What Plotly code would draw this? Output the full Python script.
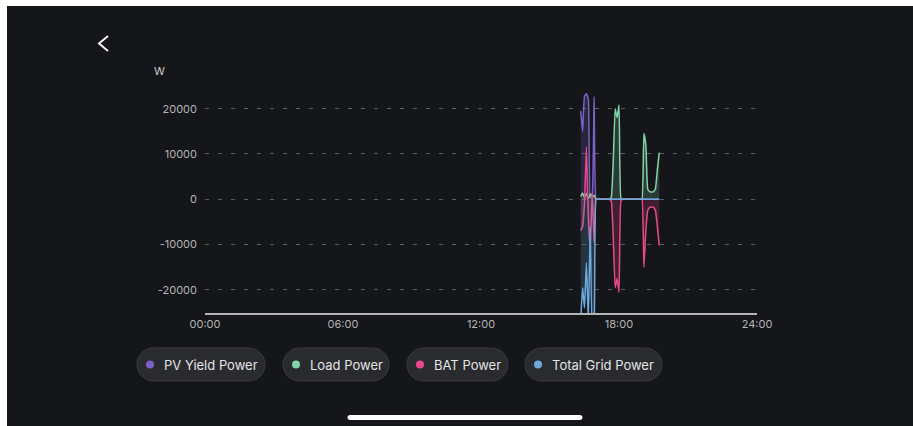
import plotly.graph_objects as go

# ---- data -------------------------------------------------------------
times = [
    "16:20", "16:25", "16:30", "16:35", "16:40", "16:45", "16:50", "16:55",
    "17:00", "17:05", "17:10", "17:15", "17:20", "17:25", "17:30", "17:35",
    "17:40", "17:45", "17:50", "17:55", "18:00", "18:05", "18:10", "18:15",
    "18:20", "18:25", "18:30", "18:35", "18:40", "18:45", "18:50", "18:55",
    "19:00", "19:05", "19:10", "19:15", "19:20", "19:25", "19:30", "19:35",
    "19:40", "19:45",
]
pv_yield_power = [
    19500, 15000, 22800, 23300, 22000, 300, 800, 22600,
    0, 0, 0, 0, 0, 0, 0, 0,
    0, 0, 0, 0, 0, 0, 0, 0,
    0, 0, 0, 0, 0, 0, 0, 0,
    0, 0, 0, 0, 0, 0, 0, 0,
    0, 0,
]
load_power = [
    600, 1400, 400, 1300, 200, 1200, 500, 900,
    0, 0, 0, 0, 0, 0, 0, 0,
    500, 8500, 20000, 18000, 20800, 200, 0, 0,
    0, 0, 0, 0, 0, 0, 0, 0,
    0, 14500, 12000, 2200, 1700, 1600, 1700, 2300,
    6500, 10300,
]
bat_power = [
    -6900, -6000, -1000, 11600, -4200, -11000, 1500, -9500,
    0, 0, 0, 0, 0, 0, 0, 0,
    -500, -8500, -19500, -17500, -20500, -300, 0, 0,
    0, 0, 0, 0, 0, 0, 0, 0,
    0, -15000, -7000, -2500, -1800, -1700, -1800, -2500,
    -6000, -10200,
]
total_grid_power = [
    -27000, -19500, -24000, -14000, -27000, -6000, -28000, -27000,
    0, 0, 0, 0, 0, 0, 0, 0,
    0, 0, 0, 0, 0, 0, 0, 0,
    0, 0, 0, 0, 0, 0, 0, 0,
    0, 0, 0, 0, 0, 0, 0, 0,
    0, 0,
]

series_names = ["PV Yield Power", "Load Power", "BAT Power", "Total Grid Power"]
series_values = [pv_yield_power, load_power, bat_power, total_grid_power]
series_rgb = [(123, 99, 198), (130, 211, 167), (233, 73, 138), (110, 169, 222)]

x_tick_hours = [0, 6, 12, 18, 24]
x_tick_labels = ["00:00", "06:00", "12:00", "18:00", "24:00"]
y_tick_values = [20000, 10000, 0, -10000, -20000]
y_tick_labels = ["20000", "10000", "0", "-10000", "-20000"]
y_unit = "W"

# ---- geometry helpers (pixel -> paper) --------------------------------
W, H = 913, 426
L, R, T, B = 205, 156, 86, 113
PW, PH = W - L - R, H - T - B
BG = "#151619"


def px(x):
    return (x - L) / PW


def py(y):
    return (H - B - y) / PH


def rounded_rect_path(x0, y0, x1, y1, r):
    k = 0.5523 * r

    def p(x, y):
        return f"{px(x):.5f},{py(y):.5f}"

    return (
        f"M {p(x0 + r, y0)} L {p(x1 - r, y0)} "
        f"C {p(x1 - r + k, y0)} {p(x1, y0 + r - k)} {p(x1, y0 + r)} "
        f"L {p(x1, y1 - r)} "
        f"C {p(x1, y1 - r + k)} {p(x1 - r + k, y1)} {p(x1 - r, y1)} "
        f"L {p(x0 + r, y1)} "
        f"C {p(x0 + r - k, y1)} {p(x0, y1 - r + k)} {p(x0, y1 - r)} "
        f"L {p(x0, y0 + r)} "
        f"C {p(x0, y0 + r - k)} {p(x0 + r - k, y0)} {p(x0 + r, y0)} Z"
    )


def to_hours(t):
    h, m = t.split(":")
    return int(h) + int(m) / 60


hours = [to_hours(t) for t in times]

# ---- traces -----------------------------------------------------------
fig = go.Figure()
for name, vals, (r, g, b) in zip(series_names, series_values, series_rgb):
    fig.add_trace(go.Scatter(
        x=hours, y=vals, name=name, mode="lines",
        line=dict(color=f"rgb({r},{g},{b})", width=1.5, shape="spline", smoothing=0.35),
        fill="tozeroy", fillcolor=f"rgba({r},{g},{b},0.2)",
        hoverinfo="skip",
    ))

# ---- chrome: legend pills, back chevron, unit label, home bar ---------
shapes = []
annotations = []

# white strips along the top and left edges
shapes.append(dict(type="rect", xref="paper", yref="paper",
                   x0=px(0), x1=px(W), y0=py(0), y1=py(6),
                   fillcolor="white", line_width=0, layer="above"))
shapes.append(dict(type="rect", xref="paper", yref="paper",
                   x0=px(0), x1=px(7), y0=py(0), y1=py(H),
                   fillcolor="white", line_width=0, layer="above"))

# back chevron
shapes.append(dict(type="path", xref="paper", yref="paper",
                   path=f"M {px(108)},{py(36)} L {px(99)},{py(43.5)} L {px(108)},{py(51)}",
                   line=dict(color="#f2f2f2", width=2)))

# unit label
annotations.append(dict(x=px(159.5), y=py(71), xref="paper", yref="paper",
                        text=y_unit, showarrow=False, xanchor="center", yanchor="middle",
                        font=dict(family="Inter", size=11, color="#cfcfd2")))

# legend pills
pill_spans = [(137, 265), (283, 389), (407, 508), (525, 662)]
pill_top, pill_bottom = 348, 381
pill_mid = (pill_top + pill_bottom) / 2
for (x0, x1), name, (r, g, b) in zip(pill_spans, series_names, series_rgb):
    shapes.append(dict(type="path", xref="paper", yref="paper",
                       path=rounded_rect_path(x0, pill_top, x1, pill_bottom, (pill_bottom - pill_top) / 2),
                       fillcolor="#2a2b2f", line=dict(color="#3a3b40", width=1)))
    cx = x0 + 13
    shapes.append(dict(type="circle", xref="paper", yref="paper",
                       x0=px(cx - 4), x1=px(cx + 4), y0=py(pill_mid + 4), y1=py(pill_mid - 4),
                       fillcolor=f"rgb({r},{g},{b})", line_width=0))
    annotations.append(dict(x=px(x0 + 25), y=py(pill_mid), xref="paper", yref="paper",
                            text=name, showarrow=False, xanchor="left", yanchor="middle",
                            font=dict(family="Inter", size=13, color="#e4e4e6")))

# home indicator
shapes.append(dict(type="path", xref="paper", yref="paper",
                   path=rounded_rect_path(347.5, 415, 582.5, 420, 2.5),
                   fillcolor="#ffffff", line_width=0))

fig.update_layout(
    width=W, height=H,
    margin=dict(l=L, r=R, t=T, b=B, pad=0),
    paper_bgcolor=BG, plot_bgcolor=BG,
    showlegend=False,
    font=dict(family="Inter", size=11, color="#b4b4b7"),
    shapes=shapes, annotations=annotations,
)
fig.update_xaxes(
    range=[0, 24], tickvals=x_tick_hours, ticktext=x_tick_labels,
    showgrid=False, zeroline=False, showline=True, linecolor="#b4b4b6", linewidth=2,
    ticks="", ticklabelstandoff=0, fixedrange=True,
)
fig.update_yaxes(
    range=[-25100, 25000], tickvals=y_tick_values, ticktext=y_tick_labels,
    showgrid=True, gridcolor="#5c5d61", gridwidth=1, griddash="4px,9px",
    zeroline=False, showline=False, ticks="", ticklabelstandoff=7, fixedrange=True,
)

fig.write_html("out.html", config={"displayModeBar": False})
